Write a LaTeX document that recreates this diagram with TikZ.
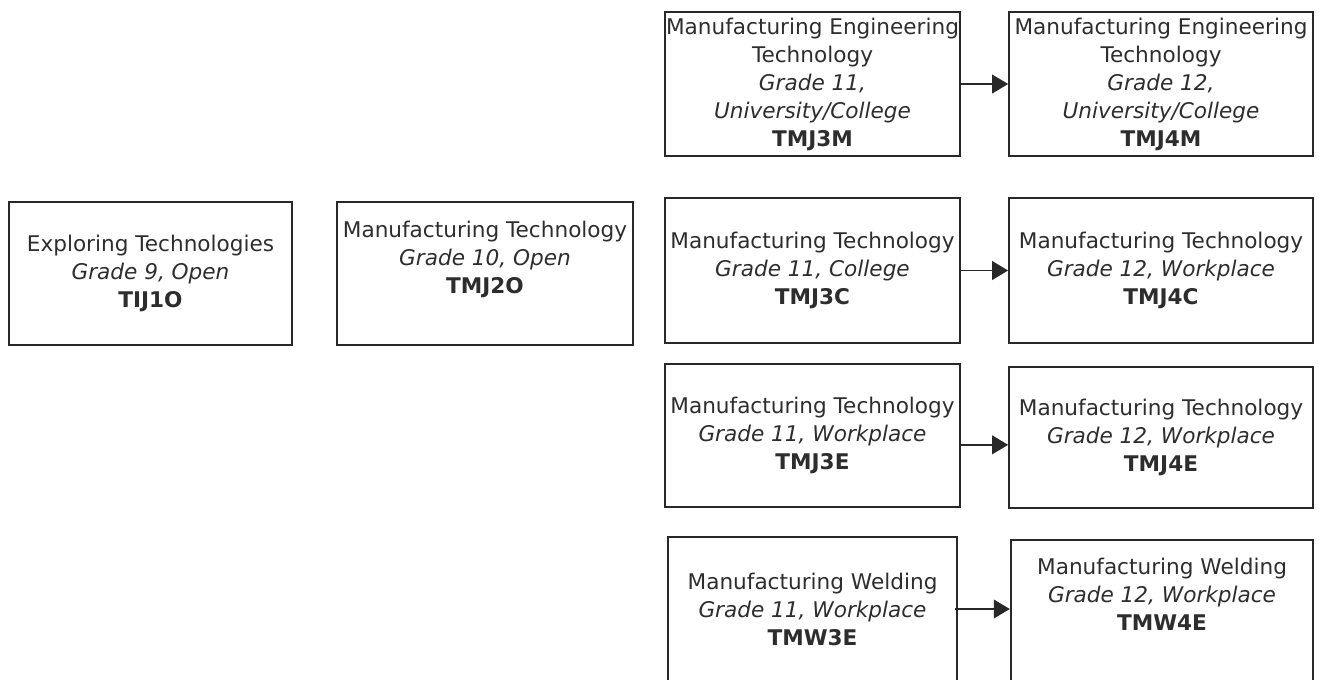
\documentclass[tikz,border=0pt]{standalone}
\usepackage{fontspec}
\setmainfont{DejaVu Sans}
\usepackage{tikz}
\definecolor{boxline}{RGB}{40, 40, 40}
\definecolor{boxtext}{RGB}{45, 45, 45}
\usetikzlibrary{arrows.meta}

\begin{document}
\begin{tikzpicture}[
    x=0.75pt, y=-0.75pt,
    course/.style={rectangle, draw=boxline, line width=1.3pt, minimum width=#1, minimum height=107pt, align=center, inner sep=0pt, text=boxtext, font=\fontsize{16.2}{21}\selectfont},
    course/.default=221pt,
    arrow/.style={-{Triangle[length=12pt, width=14pt]}, line width=1.3pt, draw=boxline}
]
    \useasboundingbox (0,0) rectangle (1319,679);

    \node[course=212pt] (tij1o) at (150.5, 273.5) {Exploring Technologies\\\textit{Grade 9, Open}\\\textbf{TIJ1O}};
    \node[course=222pt] (tmj2o) at (485, 273.5) {Manufacturing Technology\\\textit{Grade 10, Open}\\\textbf{TMJ2O}\\[4pt]};

    \node[course, minimum height=108pt] (tmj3m) at (812.5, 84) {Manufacturing Engineering\\Technology\\\textit{Grade 11,}\\\textit{University/College}\\\textbf{TMJ3M}};
    \node[course=228pt, minimum height=108pt] (tmj4m) at (1161, 84) {Manufacturing Engineering\\Technology\\\textit{Grade 12,}\\\textit{University/College}\\\textbf{TMJ4M}};

    \node[course, minimum height=109pt] (tmj3c) at (812.5, 270.5) {Manufacturing Technology\\\textit{Grade 11, College}\\\textbf{TMJ3C}};
    \node[course=228pt, minimum height=109pt] (tmj4c) at (1161, 270.5) {Manufacturing Technology\\\textit{Grade 12, Workplace}\\\textbf{TMJ4C}};

    \node[course] (tmj3e) at (812.5, 435.5) {Manufacturing Technology\\\textit{Grade 11, Workplace}\\\textbf{TMJ3E}};
    \node[course=228pt, minimum height=106pt] (tmj4e) at (1161, 437.5) {Manufacturing Technology\\\textit{Grade 12, Workplace}\\\textbf{TMJ4E}};

    \node[course=217pt, minimum height=108pt] (tmw3e) at (812.5, 609) {Manufacturing Welding\\\textit{Grade 11, Workplace}\\\textbf{TMW3E}};
    \node[course=227pt, minimum height=106pt] (tmw4e) at (1162, 610.5) {Manufacturing Welding\\\textit{Grade 12, Workplace}\\\textbf{TMW4E}\\[4pt]};

    \draw[arrow] (tmj3m.east) -- (tmj3m.east -| tmj4m.west);
    \draw[arrow] (tmj3c.east) -- (tmj3c.east -| tmj4c.west);
    \draw[arrow] ([yshift=-7pt]tmj3e.east) -- ([yshift=-7pt]tmj3e.east -| tmj4e.west);
    \draw[arrow] ([xshift=-2pt]tmw3e.east) -- (tmw3e.east -| tmw4e.west);
\end{tikzpicture}
\end{document}
